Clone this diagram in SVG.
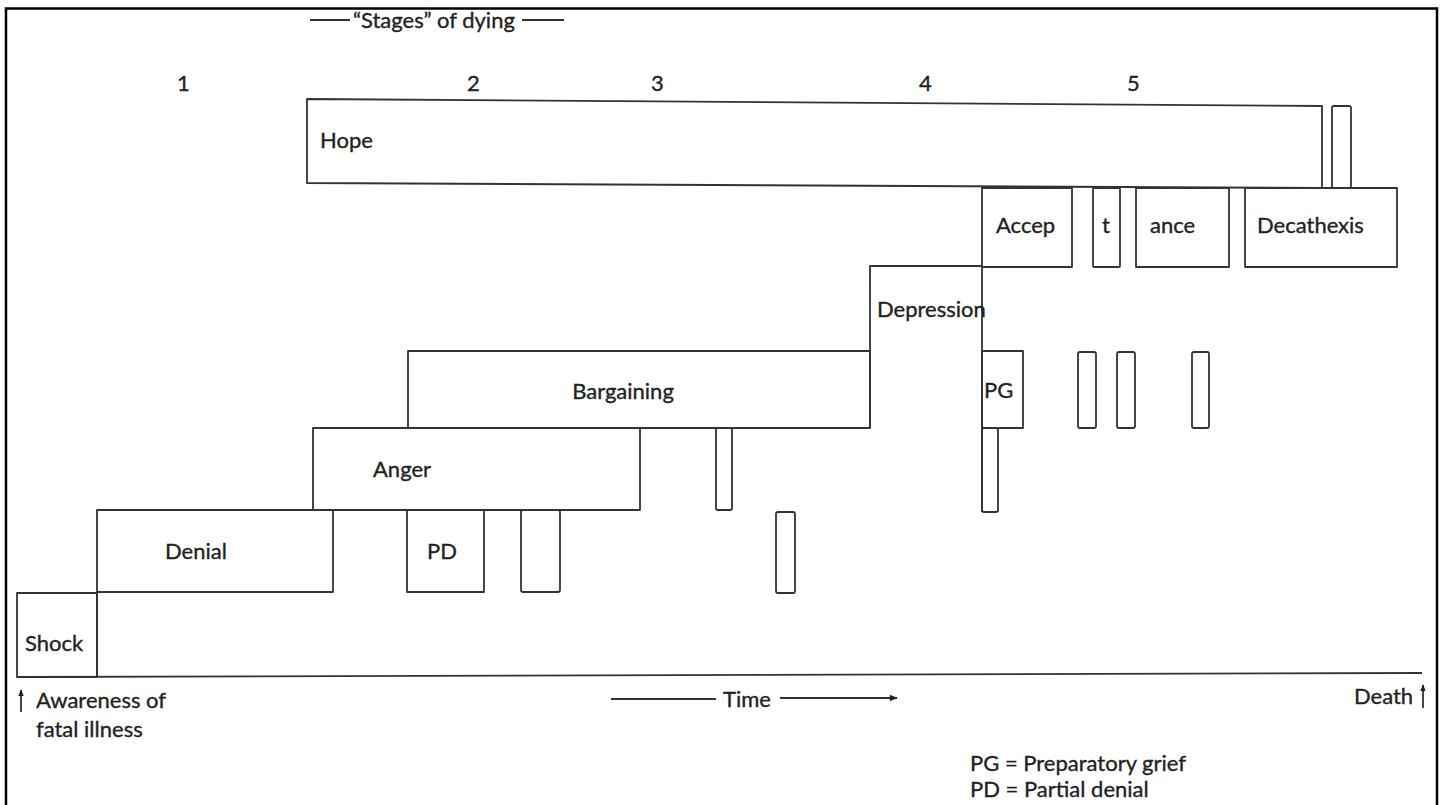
<svg xmlns="http://www.w3.org/2000/svg" width="1444" height="805" viewBox="0 0 1444 805">
<defs>
<style>
.b{fill:none;stroke:#333;stroke-width:1.8;stroke-linejoin:round}
.t{font-family:Lato,"Liberation Sans",sans-serif;font-size:22px;fill:#222;stroke:#222;stroke-width:0.35}
.ln{stroke:#333;stroke-width:1.8;fill:none}
</style>
<marker id="ah" viewBox="0 0 10 10" refX="9" refY="5" markerWidth="9" markerHeight="8" markerUnits="userSpaceOnUse" orient="auto"><path d="M0,1 L10,5 L0,9 z" fill="#222"/></marker>
<marker id="up" viewBox="0 0 10 10" refX="9" refY="5" markerWidth="7" markerHeight="7" markerUnits="userSpaceOnUse" orient="auto"><path d="M0,1 L10,5 L0,9 z" fill="#222"/></marker>
</defs>
<rect x="0" y="0" width="1444" height="805" fill="#fff"/>
<rect x="6" y="8.5" width="1431" height="810" fill="none" stroke="#000" stroke-width="2.5"/>

<g id="title">
<line class="ln" x1="310" y1="20" x2="350" y2="20"/>
<text class="t" x="353" y="28">“Stages” of dying</text>
<line class="ln" x1="522" y1="20" x2="564" y2="20"/>
</g>
<g id="stage-numbers">
<text class="t" x="177" y="91">1</text>
<text class="t" x="467" y="91">2</text>
<text class="t" x="651" y="91">3</text>
<text class="t" x="919" y="91">4</text>
<text class="t" x="1127" y="91">5</text>
</g>

<g id="hope">
<polygon class="b" points="307,99 1322,106 1322,188 307,183"/>
<text class="t" x="320" y="148">Hope</text>
</g>
<g id="hope-bar"><rect class="b" x="1332" y="106" width="19" height="82" rx="2"/></g>

<g id="accep"><rect class="b" x="982" y="188" width="90" height="79"/><text class="t" x="996" y="233">Accep</text></g>
<g id="t"><rect class="b" x="1093" y="188" width="27" height="79" rx="1"/><text class="t" x="1102" y="233">t</text></g>
<g id="ance"><rect class="b" x="1136" y="188" width="93" height="79"/><text class="t" x="1150" y="233">ance</text></g>
<g id="decathexis"><rect class="b" x="1245" y="188" width="152" height="79"/><text class="t" x="1257" y="233">Decathexis</text></g>

<g id="depression"><polyline class="b" points="870,428 870,266 982,266 982,512"/><text class="t" x="877" y="317">Depression</text></g>

<g id="bargaining"><rect class="b" x="408" y="351" width="462" height="77"/><text class="t" x="623" y="399" text-anchor="middle">Bargaining</text></g>
<g id="pg"><rect class="b" x="982" y="351" width="41" height="77"/><text class="t" x="984" y="398">PG</text></g>
<g id="pg-bar"><rect class="b" x="982" y="428" width="16" height="84" rx="2"/></g>
<g id="bars-pg-row">
<rect class="b" x="1078" y="352" width="18" height="76" rx="2"/>
<rect class="b" x="1117" y="352" width="18" height="76" rx="2"/>
<rect class="b" x="1192" y="352" width="17" height="76" rx="2"/>
</g>

<g id="anger"><rect class="b" x="313" y="428" width="327" height="82"/><text class="t" x="373" y="477">Anger</text></g>
<g id="bar-anger-row"><rect class="b" x="716" y="428" width="16" height="82" rx="2"/></g>

<g id="denial"><rect class="b" x="97" y="510" width="236" height="82"/><line class="ln" x1="97" y1="592" x2="97" y2="677"/><text class="t" x="165" y="559">Denial</text></g>
<g id="pd"><rect class="b" x="407" y="510" width="77" height="82"/><text class="t" x="427" y="559">PD</text></g>
<g id="bars-denial-row">
<rect class="b" x="521" y="510" width="39" height="82" rx="2"/>
<rect class="b" x="776" y="512" width="19" height="81" rx="2"/>
</g>

<g id="shock"><rect class="b" x="17" y="593" width="80" height="84"/><text class="t" x="25" y="651">Shock</text></g>

<g id="connectors">
<line class="ln" x1="17" y1="677" x2="1422" y2="673"/>
<line class="ln" x1="611" y1="699" x2="716" y2="699"/>
<line class="ln" x1="780" y1="698" x2="897" y2="698" marker-end="url(#ah)"/>
<line class="ln" x1="21" y1="712" x2="21" y2="690" marker-end="url(#up)"/>
<line class="ln" x1="1423" y1="708" x2="1423" y2="685" marker-end="url(#up)"/>
</g>

<g id="labels">
<text class="t" x="36" y="708">Awareness of</text>
<text class="t" x="36" y="737">fatal illness</text>
<text class="t" x="723" y="707">Time</text>
<text class="t" x="1354" y="704">Death</text>
<text class="t" x="970" y="771">PG = Preparatory grief</text>
<text class="t" x="970" y="797">PD = Partial denial</text>
</g>
</svg>
